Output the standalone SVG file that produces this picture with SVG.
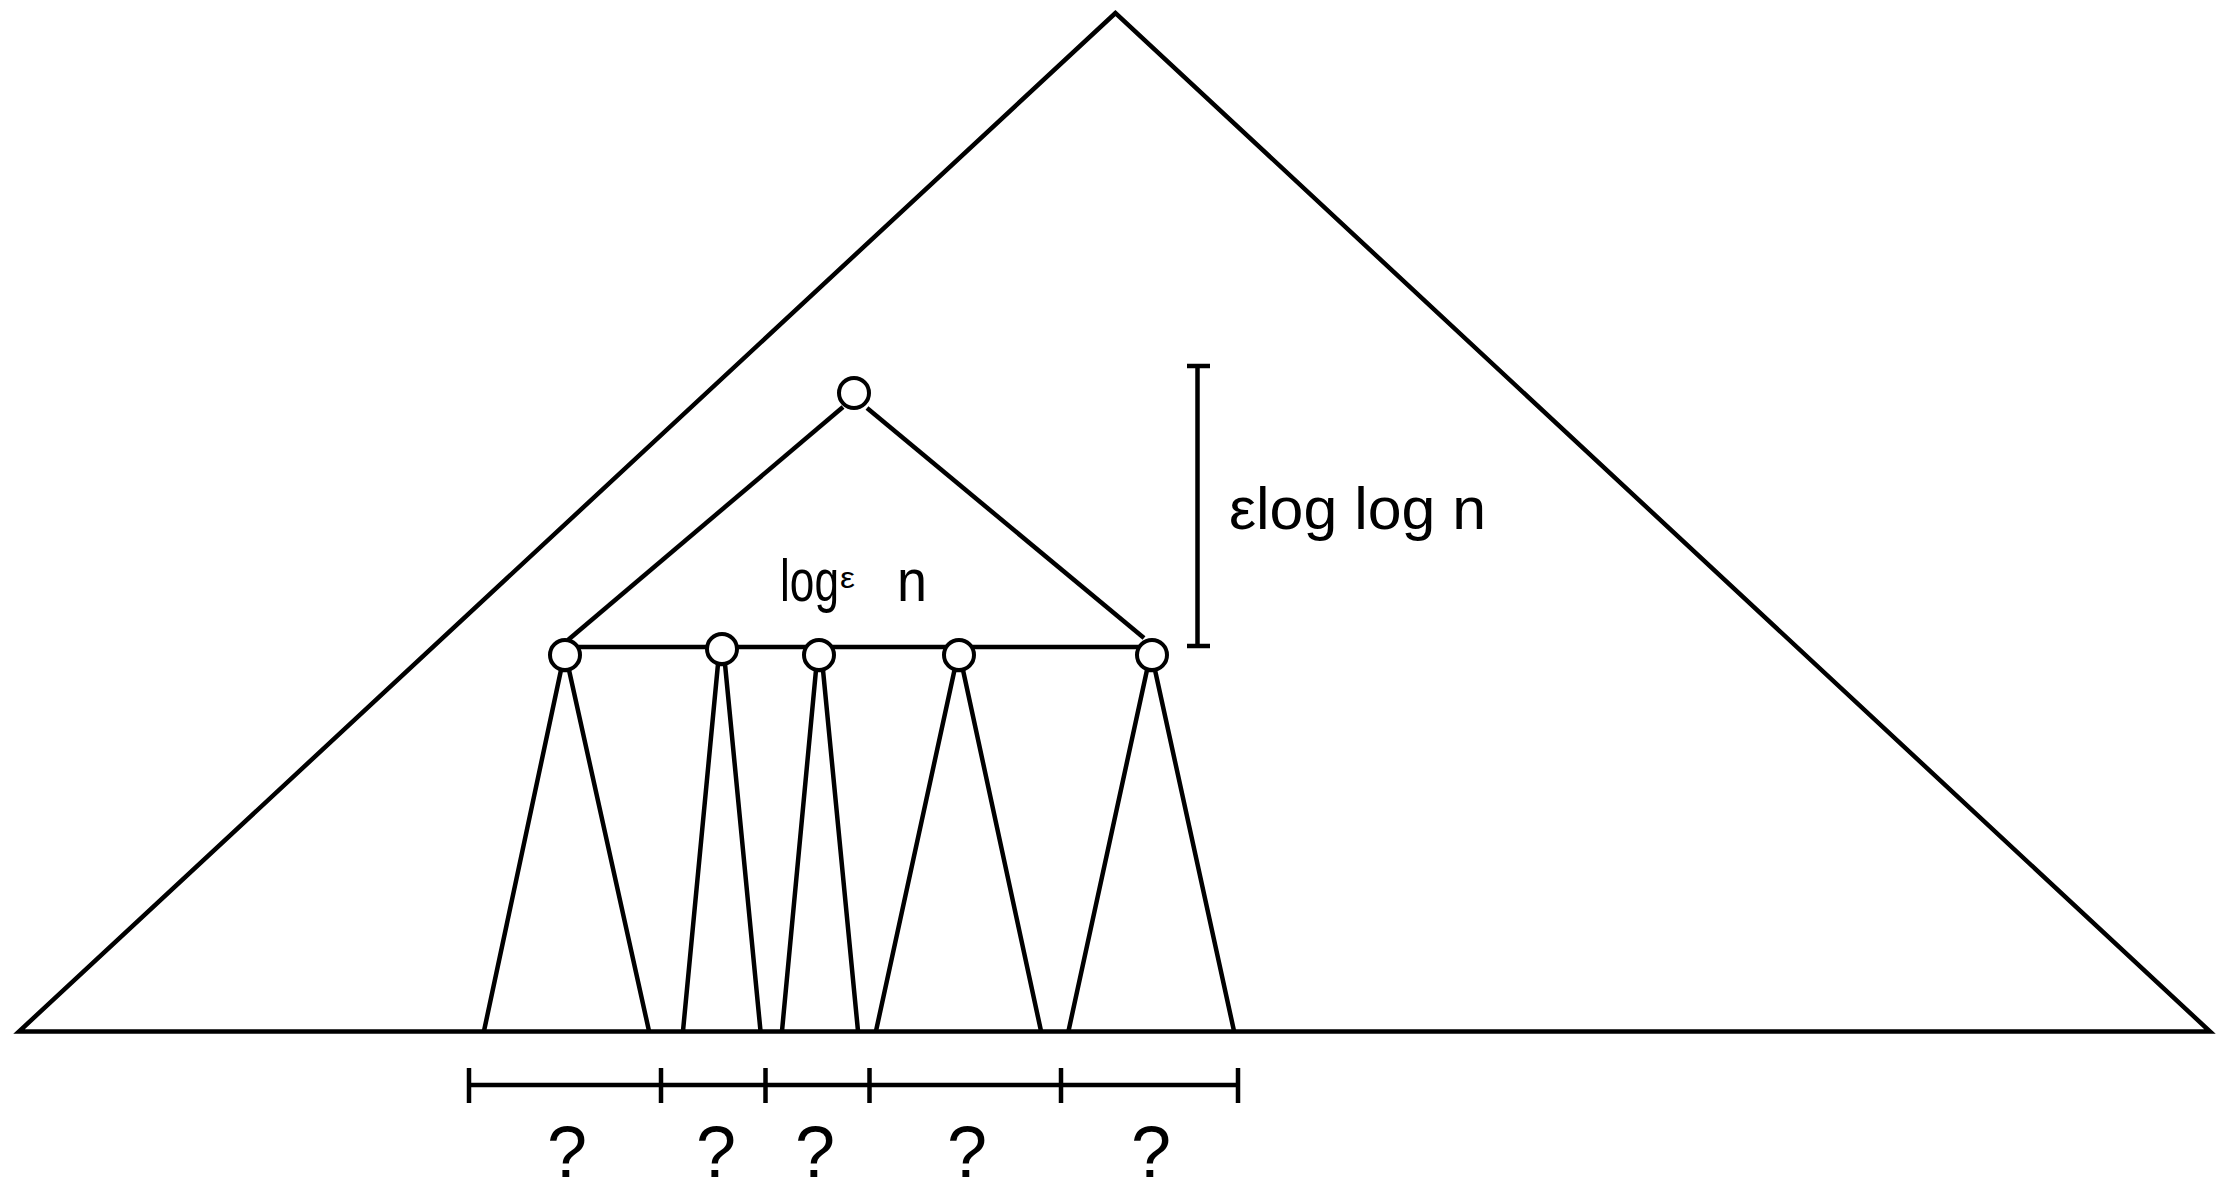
<svg xmlns="http://www.w3.org/2000/svg" width="2227" height="1180" viewBox="0 0 2227 1180">
<style>
.ln{stroke:#000;stroke-width:4.5;fill:none;stroke-linecap:butt}
.nd{stroke:#000;stroke-width:4;fill:#fff}
.tx{font-family:"Liberation Sans",Arial,sans-serif;fill:#000}
</style>
<rect width="2227" height="1180" fill="#fff"/>
<g id="outer-tree">
<polygon class="ln" points="1115.5,13 19,1031.5 2210,1031.5" stroke-width="4.5" stroke-linejoin="miter"/>
</g>
<g id="connectors">
<line class="ln" x1="843" y1="407" x2="568" y2="640"/>
<line class="ln" x1="867" y1="408" x2="1144" y2="638"/>
<line class="ln" x1="565" y1="647" x2="1152" y2="647"/>
<polyline class="ln" points="484,1031 561,670 569,670 649,1031"/>
<polyline class="ln" points="683,1031 718,664 725,664 760.5,1031"/>
<polyline class="ln" points="782,1031 816,670 823,670 858,1031"/>
<polyline class="ln" points="876,1031 954.5,670 963,670 1041,1031"/>
<polyline class="ln" points="1068.5,1031 1147,670 1155,670 1234,1031"/>
</g>
<g id="node-top"><circle class="nd" cx="854" cy="393" r="15"/></g>
<g id="node-1"><circle class="nd" cx="565" cy="655" r="15"/></g>
<g id="node-2"><circle class="nd" cx="722" cy="649" r="15"/></g>
<g id="node-3"><circle class="nd" cx="819" cy="655" r="15"/></g>
<g id="node-4"><circle class="nd" cx="959" cy="655" r="15"/></g>
<g id="node-5"><circle class="nd" cx="1152" cy="655" r="15"/></g>
<g id="height-bracket">
<line class="ln" x1="1197.5" y1="366" x2="1197.5" y2="646"/>
<line class="ln" x1="1187" y1="366" x2="1210" y2="366"/>
<line class="ln" x1="1187" y1="646" x2="1210" y2="646"/>
<text class="tx" x="1229" y="529" font-size="60" textLength="257" lengthAdjust="spacingAndGlyphs">εlog log n</text>
</g>
<g id="fanout-label">
<text class="tx" x="780" y="601" font-size="60" textLength="59" lengthAdjust="spacingAndGlyphs">log</text>
<text class="tx" x="840" y="588" font-size="30" textLength="15" lengthAdjust="spacingAndGlyphs">ε</text>
<text class="tx" x="897" y="601" font-size="60" textLength="30" lengthAdjust="spacingAndGlyphs">n</text>
</g>
<g id="ruler">
<line class="ln" x1="469" y1="1085" x2="1238" y2="1085" stroke-width="5.5"/>
<line class="ln" x1="469" y1="1068" x2="469" y2="1103" stroke-width="4.5"/>
<line class="ln" x1="661" y1="1068" x2="661" y2="1103" stroke-width="4"/>
<line class="ln" x1="765.5" y1="1068" x2="765.5" y2="1103" stroke-width="4"/>
<line class="ln" x1="869.5" y1="1068" x2="869.5" y2="1103" stroke-width="4"/>
<line class="ln" x1="1061" y1="1068" x2="1061" y2="1103" stroke-width="4"/>
<line class="ln" x1="1238" y1="1068" x2="1238" y2="1103" stroke-width="4.5"/>
</g>
<g id="question-marks" class="tx" font-size="72" text-anchor="middle">
<text class="tx" x="567" y="1177">?</text>
<text class="tx" x="716" y="1177">?</text>
<text class="tx" x="815" y="1177">?</text>
<text class="tx" x="967" y="1177">?</text>
<text class="tx" x="1151" y="1177">?</text>
</g>
</svg>
